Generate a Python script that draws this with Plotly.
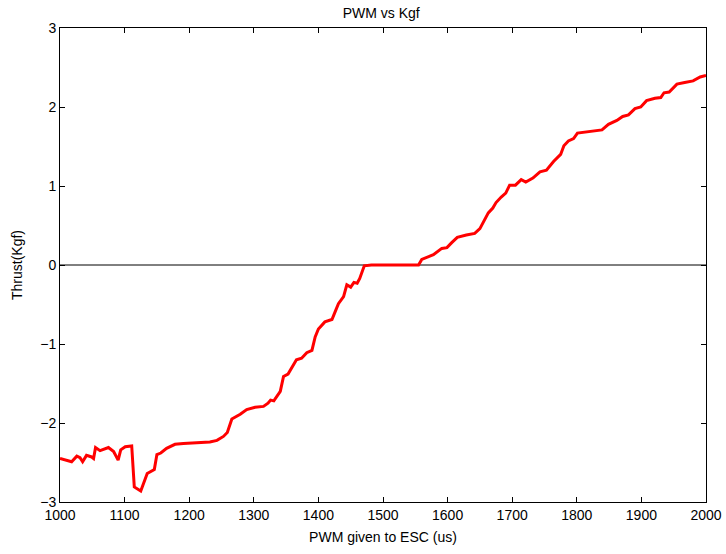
import plotly.graph_objects as go

pwm = [1000, 1010, 1018, 1026, 1031, 1035, 1041, 1049, 1052, 1055, 1062, 1075, 1083, 1090, 1094,
       1101, 1111, 1115, 1125, 1135, 1146, 1150, 1156, 1165, 1178, 1191, 1206, 1222, 1232, 1243,
       1253, 1259, 1266, 1279, 1289, 1302, 1315, 1322, 1326, 1331, 1341, 1346, 1353, 1366, 1374,
       1382, 1390, 1395, 1400, 1410, 1421, 1426, 1431, 1439, 1444, 1450, 1455, 1460, 1464, 1471,
       1482, 1500, 1530, 1555, 1560, 1568, 1578, 1591, 1599, 1606, 1615, 1629, 1642, 1650, 1657,
       1663, 1670, 1675, 1683, 1690, 1696, 1705, 1714, 1721, 1732, 1743, 1753, 1764, 1775, 1780,
       1787, 1795, 1801, 1820, 1839, 1849, 1862, 1871, 1880, 1890, 1899, 1908, 1921, 1930, 1935,
       1943, 1955, 1967, 1980, 1991, 2000]
thrust = [-2.45, -2.47, -2.49, -2.42, -2.44, -2.49, -2.41, -2.43, -2.45, -2.31, -2.35, -2.31, -2.36, -2.47, -2.34,
          -2.30, -2.29, -2.81, -2.86, -2.64, -2.59, -2.40, -2.38, -2.32, -2.27, -2.26, -2.25, -2.24, -2.24, -2.22,
          -2.17, -2.12, -1.95, -1.89, -1.83, -1.80, -1.79, -1.75, -1.71, -1.72, -1.60, -1.41, -1.38, -1.20, -1.18,
          -1.11, -1.08, -0.91, -0.81, -0.72, -0.69, -0.59, -0.49, -0.40, -0.25, -0.28, -0.22, -0.23, -0.17, -0.01,
          0.0, 0.0, 0.0, 0.0, 0.07, 0.10, 0.13, 0.21, 0.22, 0.28, 0.35, 0.38, 0.40, 0.46, 0.57,
          0.66, 0.72, 0.79, 0.86, 0.91, 1.01, 1.01, 1.08, 1.05, 1.10, 1.18, 1.20, 1.31, 1.40, 1.51,
          1.57, 1.60, 1.67, 1.69, 1.71, 1.78, 1.83, 1.88, 1.90, 1.98, 2.00, 2.08, 2.11, 2.12, 2.18,
          2.19, 2.29, 2.31, 2.33, 2.38, 2.40]

x_ticks = [1000, 1100, 1200, 1300, 1400, 1500, 1600, 1700, 1800, 1900, 2000]
y_ticks = [-3, -2, -1, 0, 1, 2, 3]

fig = go.Figure()
fig.add_trace(go.Scatter(x=[1000, 2000], y=[0, 0], mode="lines",
                         line=dict(color="black", width=1), hoverinfo="skip", showlegend=False))
fig.add_trace(go.Scatter(x=pwm, y=thrust, mode="lines",
                         line=dict(color="#ff0000", width=3), showlegend=False))

axis_common = dict(showgrid=False, zeroline=False, showline=True, linecolor="black", linewidth=1,
                   mirror="ticks", ticks="inside", ticklen=5, tickcolor="black", automargin=False,
                   tickfont=dict(family="Liberation Sans, Arial", size=14, color="black"))

fig.update_layout(
    width=726, height=554,
    margin=dict(l=60, r=20, t=28, b=52),
    paper_bgcolor="white", plot_bgcolor="white",
    title=dict(text="PWM vs Kgf", x=0.525, xanchor="center", y=0.985, yanchor="top",
               font=dict(family="Liberation Sans, Arial", size=14, color="black")),
    xaxis=dict(range=[1000, 2000], tickvals=x_ticks, ticktext=[str(v) for v in x_ticks],
               title=dict(text="PWM given to ESC (us)", standoff=10,
                          font=dict(family="Liberation Sans, Arial", size=14, color="black")),
               **axis_common),
    yaxis=dict(range=[-3, 3], tickvals=y_ticks,
               ticktext=[("\u2212" + str(-v)) if v < 0 else str(v) for v in y_ticks],
               title=dict(text="Thrust(Kgf)", standoff=14,
                          font=dict(family="Liberation Sans, Arial", size=14, color="black")),
               **axis_common),
)

fig.write_html("out.html")
